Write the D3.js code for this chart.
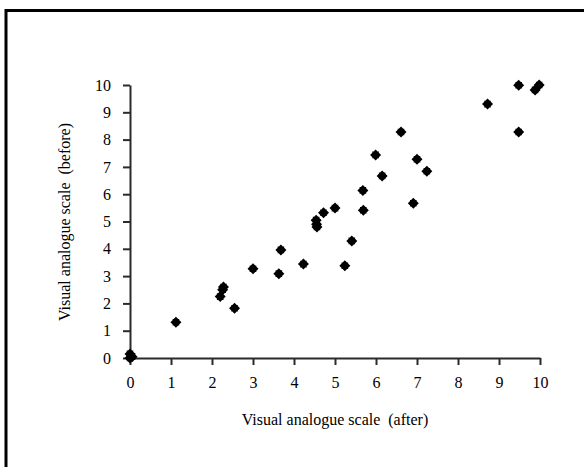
<!DOCTYPE html>
<html>
<head>
<meta charset="utf-8">
<script src="https://cdn.jsdelivr.net/npm/d3@7"></script>
<style>
  body { margin: 0; background: #fff; }
  svg { display: block; font-family: "Liberation Serif", "Times New Roman", serif; }
</style>
</head>
<body>
<div id="chart"></div>
<script>
// VAS scores
var afterVals = [0, 0, 0.05, 1.12, 2.2, 2.26, 2.28, 2.55, 3.0, 3.63, 3.68, 4.23, 4.54, 4.55, 4.56, 4.72, 5.0,
                 5.24, 5.41, 5.69, 5.68, 5.99, 6.15, 6.61, 6.91, 7.0, 7.24, 8.72, 9.48, 9.48, 9.88, 9.98];
var beforeVals = [0, 0.15, 0.05, 1.31, 2.25, 2.5, 2.6, 1.82, 3.27, 3.09, 3.96, 3.44, 5.05, 4.9, 4.8, 5.32, 5.49,
                  3.38, 4.29, 5.41, 6.14, 7.44, 6.67, 8.28, 5.67, 7.28, 6.84, 9.3, 9.99, 8.28, 9.82, 10.0];
var xTicks = [0, 1, 2, 3, 4, 5, 6, 7, 8, 9, 10];
var yTicks = [0, 1, 2, 3, 4, 5, 6, 7, 8, 9, 10];

var W = 584, H = 467;
var svg = d3.select("#chart").append("svg")
    .attr("width", W)
    .attr("height", H);

// frame (only top and left edges are in the picture)
svg.append("line").attr("x1", 6).attr("y1", 10.5).attr("x2", W).attr("y2", 10.5)
    .attr("stroke", "#000").attr("stroke-width", 3);
svg.append("line").attr("x1", 6).attr("y1", 9).attr("x2", 6).attr("y2", H)
    .attr("stroke", "#000").attr("stroke-width", 3);

var x = d3.scaleLinear().domain([0, 10]).range([130, 540]);
var y = d3.scaleLinear().domain([0, 10]).range([358, 85]);

var xAxis = svg.append("g")
    .attr("transform", "translate(0,358)")
    .call(d3.axisBottom(x).tickValues(xTicks).tickSizeInner(7).tickSizeOuter(0).tickPadding(12));

var yAxis = svg.append("g")
    .attr("transform", "translate(130,0)")
    .call(d3.axisLeft(y).tickValues(yTicks).tickSizeInner(7).tickSizeOuter(0).tickPadding(12));

[xAxis, yAxis].forEach(function (g) {
    g.selectAll("path, line").attr("stroke", "#2a2a2a").attr("stroke-width", 2);
    g.selectAll("text")
        .attr("fill", "#000")
        .style("font-family", "Liberation Serif")
        .style("font-size", "16px");
});

// blob marker: diamond plus small square
function marker(s) {
    var d = s, q = s * 0.6;
    return "M0," + (-d) + "L" + d + ",0L0," + d + "L" + (-d) + ",0Z" +
        "M" + (-q) + "," + (-q) + "H" + q + "V" + q + "H" + (-q) + "Z";
}

var pts = afterVals.map(function (v, i) { return { a: v, b: beforeVals[i] }; });

svg.append("g").selectAll("path")
    .data(pts)
    .enter().append("path")
    .attr("transform", function (d) { return "translate(" + x(d.a) + "," + y(d.b) + ")"; })
    .attr("d", marker(5.5))
    .attr("fill", "#000");

// axis titles
svg.append("text")
    .attr("x", 335)
    .attr("y", 425)
    .attr("text-anchor", "middle")
    .style("font-size", "16px")
    .style("white-space", "pre")
    .text("Visual analogue scale  (after)");

svg.append("text")
    .attr("transform", "translate(70,222) rotate(-90)")
    .attr("text-anchor", "middle")
    .style("font-size", "16px")
    .style("white-space", "pre")
    .text("Visual analogue scale  (before)");
</script>
</body>
</html>
